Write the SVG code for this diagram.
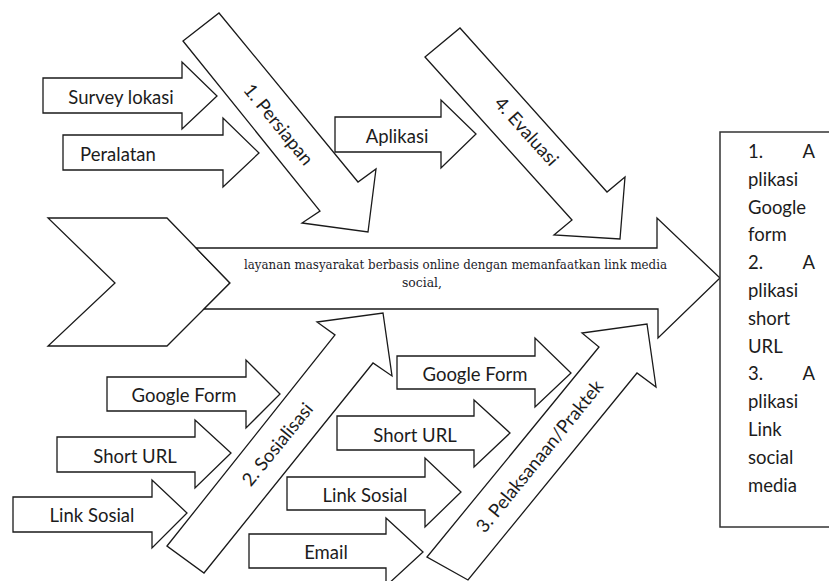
<svg xmlns="http://www.w3.org/2000/svg" width="829" height="581" viewBox="0 0 829 581">
<style>
.sh{fill:#fff;stroke:#1a1a1a;stroke-width:1.3;stroke-linejoin:miter}
.lb{font-family:Lato,"Open Sans",sans-serif;font-size:18.5px;fill:#1c1c1c}
.mid{text-anchor:middle}
.sf{font-family:"DejaVu Serif","Liberation Serif",serif;font-size:12.6px;fill:#1c1c2a}
</style>
<rect width="829" height="581" fill="#fff"/>
<g id="spine">
<polygon class="sh" points="48,218 167,218 230,283 167,346 48,346 115,283"/>
<polygon class="sh" points="196,248 657,248 657,218 720,278 658,338 658,309 204,309 230,283"/>
<text class="sf" x="244" y="269" textLength="423" lengthAdjust="spacingAndGlyphs">layanan masyarakat berbasis online dengan memanfaatkan link media</text>
<text class="sf" x="402" y="287" textLength="40" lengthAdjust="spacingAndGlyphs">social,</text>
</g>
<g id="result">
<rect x="720" y="132" width="130" height="395" fill="#fff" stroke="#333" stroke-width="1.5"/>
<g class="lb">
<text x="748" y="158">1.</text><text x="815" y="158" text-anchor="end">A</text>
<text x="748" y="185.8">plikasi</text>
<text x="748" y="213.6">Google</text>
<text x="748" y="241.4">form</text>
<text x="748" y="269.2">2.</text><text x="815" y="269.2" text-anchor="end">A</text>
<text x="748" y="297">plikasi</text>
<text x="748" y="324.8">short</text>
<text x="748" y="352.6">URL</text>
<text x="748" y="380.4">3.</text><text x="815" y="380.4" text-anchor="end">A</text>
<text x="748" y="408.2">plikasi</text>
<text x="748" y="436">Link</text>
<text x="748" y="463.8">social</text>
<text x="748" y="491.6">media</text>
</g>
</g>
<g id="persiapan">
<polygon class="sh" points="183,41 219,13 358,182 376,169 368,232 302,223 320,211"/>
<text class="lb mid" x="279" y="124" dominant-baseline="central" transform="rotate(51 279 124)">1. Persiapan</text>
</g>
<g id="evaluasi">
<polygon class="sh" points="425,57 460,28 607,192 625,177 620,239 554,235 572,220"/>
<text class="lb mid" x="527" y="131" dominant-baseline="central" transform="rotate(48 527 131)">4. Evaluasi</text>
</g>
<g id="sosialisasi">
<polygon class="sh" points="167,546 335,335 317,322 383,313 392,376 373,363 204,573"/>
<text class="lb mid" x="277" y="444" dominant-baseline="central" transform="rotate(-51 277 444)">2. Sosialisasi</text>
</g>
<g id="pelaksanaan">
<polygon class="sh" points="427,557 599,347 582,333 647,324 656,387 637,373 468,580"/>
<text class="lb mid" x="539" y="456" dominant-baseline="central" transform="rotate(-51 539 456)">3. Pelaksanaan/Praktek</text>
</g>
<g id="survey">
<polygon class="sh" points="43,78 182,78 182,62 217,96 182,129 182,113 43,113"/>
<text class="lb mid" x="121" y="104">Survey lokasi</text>
</g>
<g id="peralatan">
<polygon class="sh" points="63,135 223,135 223,118 259,153 223,187 223,170 63,170"/>
<text class="lb mid" x="118" y="161">Peralatan</text>
</g>
<g id="aplikasi">
<polygon class="sh" points="335,117 441,117 441,100 476,134 441,168 441,152 335,152"/>
<text class="lb mid" x="397" y="143">Aplikasi</text>
</g>
<g id="googleform1">
<polygon class="sh" points="107,377 246,377 246,360 280,394 246,428 246,411 107,411"/>
<text class="lb mid" x="184" y="402">Google Form</text>
</g>
<g id="shorturl1">
<polygon class="sh" points="57,437 195,437 195,420 231,453 195,488 195,472 57,472"/>
<text class="lb mid" x="135" y="463">Short URL</text>
</g>
<g id="linksosial1">
<polygon class="sh" points="13,497 152,497 152,480 187,513 152,548 152,532 13,532"/>
<text class="lb mid" x="92" y="522">Link Sosial</text>
</g>
<g id="googleform2">
<polygon class="sh" points="397,356 535,356 535,338 571,373 535,407 535,389 397,389"/>
<text class="lb mid" x="475" y="381">Google Form</text>
</g>
<g id="shorturl2">
<polygon class="sh" points="337,416 474,416 474,400 510,433 474,467 474,450 337,450"/>
<text class="lb mid" x="415" y="442">Short URL</text>
</g>
<g id="linksosial2">
<polygon class="sh" points="287,477 425,477 425,458 461,492 425,527 425,510 287,510"/>
<text class="lb mid" x="365" y="502">Link Sosial</text>
</g>
<g id="email">
<polygon class="sh" points="249,534 386,534 386,518 423,552 386,586 386,568 249,568"/>
<text class="lb mid" x="326" y="559">Email</text>
</g>
<g id="connectors"></g>
</svg>
